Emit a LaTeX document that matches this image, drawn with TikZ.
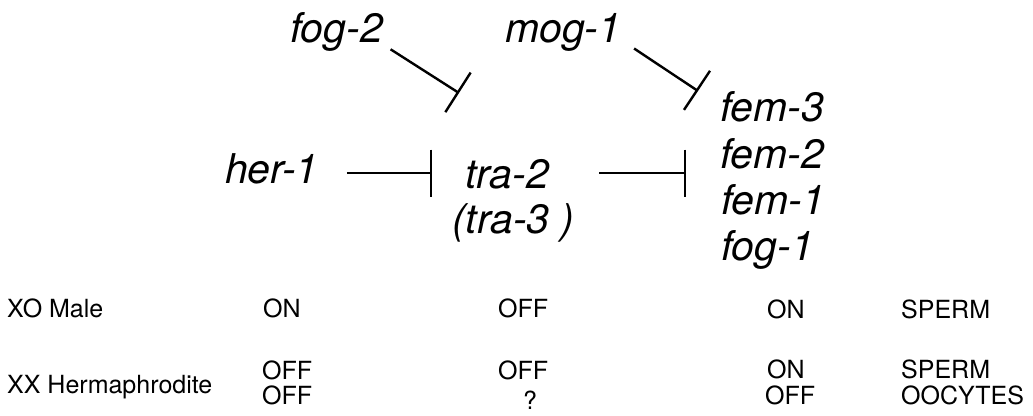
\documentclass[tikz,border=0pt]{standalone}
\usepackage{fontspec}
\setmainfont{TeX Gyre Heros}
\usetikzlibrary{arrows.meta}

\tikzset{
  gene/.style={font=\fontsize{41}{49}\selectfont\itshape, inner sep=0pt,
    anchor=base west, text height=30pt, text depth=10pt},
  tablecell/.style={font=\fontsize{25}{30}\selectfont, inner sep=0pt,
    anchor=base west},
  inhib/.style={line width=2.4pt, -{Bar[width=47pt]}},
}

\begin{document}
\begin{tikzpicture}[x=1pt, y=-1pt]
      \useasboundingbox (0,0) rectangle (1033,415);
      % pathway
      \draw
        (290,42) node[gene] (fog2){fog-2}
        (505,42) node[gene] (mog1){mog-1}
        (225,183) node[gene] (her1){her-1}
        (465,188) node[gene, text depth=0pt] (tra2){tra-2}
        (452,233) node[gene] (tra3){(tra-3 )}
        (720,121) node[gene] (fem3){fem-3}
        (720,168) node[gene] (fem2){fem-2}
        (721,214) node[gene] (fem1){fem-1}
        (721,260) node[gene] (fog1){fog-1};
      \coordinate (fog2tip) at (459,93);
      \coordinate (mog1tip) at (698,91);
      \begin{scope}[inhib]
        \draw[shorten <=9pt] (fog2.-15) to (fog2tip);
        \draw[shorten <=15pt] (mog1.-8) to (mog1tip);
        \draw[shorten <=28pt, shorten >=33pt] (her1) to (tra2);
        \draw[shorten <=50pt, shorten >=34pt] (tra2) to (tra2 -| fem2.west);
      \end{scope}
      % states
      \draw
        (7,317) node[tablecell] (xo){XO Male}
        (263,317) node[tablecell] (xoher){ON}
        (498,317) node[tablecell] (xotra){OFF}
        (767,318) node[tablecell] (xofem){ON}
        (901,318) node[tablecell] (xogerm){SPERM}
        (7,393) node[tablecell] (xx){XX Hermaphrodite}
        (262,379) node[tablecell] (xxherA){OFF}
        (262,404) node[tablecell] (xxherB){OFF}
        (498,379) node[tablecell] (xxtraA){OFF}
        (523,409) node[tablecell] (xxtraB){?}
        (767,378) node[tablecell] (xxfemA){ON}
        (765,404) node[tablecell] (xxfemB){OFF}
        (901,378) node[tablecell] (xxgermA){SPERM}
        (901,404) node[tablecell] (xxgermB){OOCYTES};
    \end{tikzpicture}
\end{document}
